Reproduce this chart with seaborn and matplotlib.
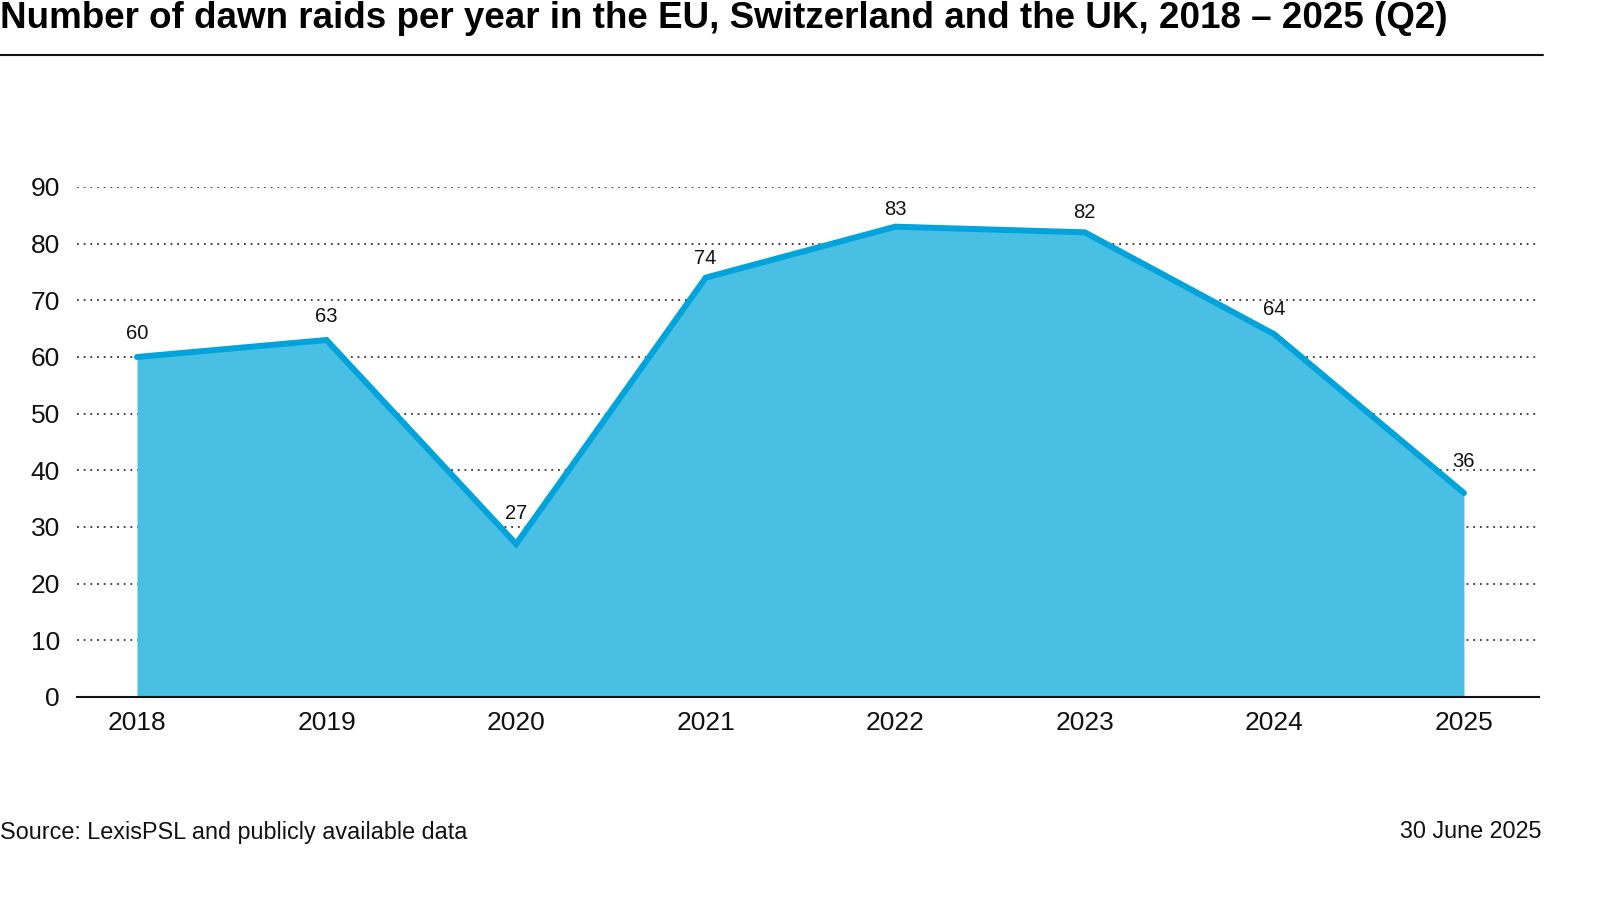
import matplotlib
matplotlib.use("Agg")
import matplotlib.pyplot as plt
import seaborn as sns
import pandas as pd

years = [2018, 2019, 2020, 2021, 2022, 2023, 2024, 2025]
raids = [60, 63, 27, 74, 83, 82, 64, 36]
yticks = [0, 10, 20, 30, 40, 50, 60, 70, 80, 90]
title = "Number of dawn raids per year in the EU, Switzerland and the UK, 2018 \u2013 2025 (Q2)"
source = "Source: LexisPSL and publicly available data"
date_note = "30 June 2025"

# style: vertical offset (points) of each value label above its point
label_offsets = [17, 17, 22, 14, 12.5, 14, 18, 23]

df = pd.DataFrame({"year": years, "raids": raids})

sns.set_theme(style="white")
plt.rcParams["font.family"] = ["Liberation Sans", "DejaVu Sans"]

fill_color = "#48BFE3"
line_color = "#00A3DB"

W, H = 1600, 900
fig = plt.figure(figsize=(16, 9), dpi=100)
ax_l, ax_r, ax_b, ax_t = 76.5, 1539, 697, 187
ax = fig.add_axes([ax_l / W, 1 - ax_b / H, (ax_r - ax_l) / W, (ax_b - ax_t) / H])

for y in yticks[1:]:
    ax.axhline(y, color="#333333", lw=1.3, ls=(0, (1, 2.7)), zorder=0)

ax.fill_between(df["year"], 0, df["raids"], color=fill_color, lw=0, zorder=1)
sns.lineplot(data=df, x="year", y="raids", ax=ax, color=line_color, lw=4.3,
             zorder=2, solid_joinstyle="miter")

for (x, y), off in zip(zip(df["year"], df["raids"]), label_offsets):
    ax.annotate(str(y), (x, y), xytext=(0, off), textcoords="offset points",
                ha="center", va="center", fontsize=14.5, color="#111111",
                annotation_clip=False)

ax.set_xlim(2018 - 0.319, 2025 + 0.396)
ax.set_ylim(0, 90)
ax.set_yticks(yticks)
ax.set_xticks(years)
ax.set_xticklabels([str(y) for y in years])
ax.tick_params(axis="both", length=0, labelsize=19, colors="#111111")
ax.tick_params(axis="y", pad=12)
ax.tick_params(axis="x", pad=10)
ax.set_xlabel("")
ax.set_ylabel("")
for s in ["top", "right", "left"]:
    ax.spines[s].set_visible(False)
ax.spines["bottom"].set_color("#111111")
ax.spines["bottom"].set_linewidth(1.5)
ax.spines["bottom"].set_zorder(3)

fig.text(0.0, 1 - 18 / H, title, ha="left", va="center", fontsize=26.5,
         fontweight="bold", color="#000000")
fig.add_artist(plt.Line2D([0, 1543 / W], [1 - 55 / H, 1 - 55 / H],
                          color="#111111", lw=1.5, transform=fig.transFigure))
fig.text(0.0, 1 - 832 / H, source, ha="left", va="center", fontsize=16.8,
         color="#111111")
fig.text(1541 / W, 1 - 832 / H, date_note, ha="right", va="center",
         fontsize=16.8, color="#111111")

fig.savefig("out.png", dpi=100)
